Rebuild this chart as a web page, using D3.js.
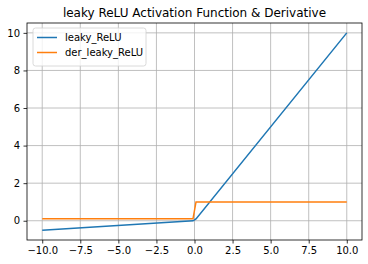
<!DOCTYPE html>
<html>
<head>
<meta charset="utf-8">
<script src="https://cdn.jsdelivr.net/npm/d3@7"></script>
<style>
body { margin: 0; background: #fff; }
text { font-family: "DejaVu Sans", sans-serif; fill: #000; }
</style>
</head>
<body>
<svg id="chart" width="368" height="264"></svg>
<script>
// Data
var xs = [-10, -0.1, 0.1, 10];
var leakyRelu = [-0.5, -0.005, 0.1, 10];
var derLeakyRelu = [0.1, 0.1, 1, 1];
var xTicks = [-10, -7.5, -5, -2.5, 0, 2.5, 5, 7.5, 10];
var yTicks = [0, 2, 4, 6, 8, 10];
var seriesNames = ['leaky_ReLU', 'der_leaky_ReLU'];
var colors = ['#1f77b4', '#ff7f0e'];

var svg = d3.select('#chart');
var pLeft = 27, pRight = 362, pTop = 23, pBottom = 240;

var x = d3.scaleLinear().domain([-11, 11]).range([pLeft, pRight]);
var y = d3.scaleLinear().domain([-1.025, 10.525]).range([pBottom, pTop]);

// grid
svg.append('g').selectAll('line').data(xTicks).enter().append('line')
    .attr('x1', function(d){ return x(d); }).attr('x2', function(d){ return x(d); })
    .attr('y1', pTop).attr('y2', pBottom)
    .attr('stroke', '#b0b0b0').attr('stroke-width', 0.8);
svg.append('g').selectAll('line').data(yTicks).enter().append('line')
    .attr('y1', function(d){ return y(d); }).attr('y2', function(d){ return y(d); })
    .attr('x1', pLeft).attr('x2', pRight)
    .attr('stroke', '#b0b0b0').attr('stroke-width', 0.8);

// axes
var xAxis = svg.append('g').attr('transform', 'translate(0,' + pBottom + ')')
    .call(d3.axisBottom(x).tickValues(xTicks).tickSize(3.5).tickPadding(3.5)
        .tickFormat(function(d){ return d3.format('.1f')(d).replace('-', '\u2212'); }));
var yAxis = svg.append('g').attr('transform', 'translate(' + pLeft + ',0)')
    .call(d3.axisLeft(y).tickValues(yTicks).tickSize(3.5).tickPadding(3.5));
[xAxis, yAxis].forEach(function(a)
{
    a.select('.domain').remove();
    a.selectAll('text').style('font-family', '"DejaVu Sans", sans-serif').style('font-size', '10px').attr('fill', '#000');
    a.selectAll('line').attr('stroke', '#000').attr('stroke-width', 0.8);
});

// lines
var pts = [leakyRelu, derLeakyRelu];
var line = d3.line().x(function(d){ return x(d[0]); }).y(function(d){ return y(d[1]); });
pts.forEach(function(vals, i)
{
    svg.append('path')
        .datum(xs.map(function(v, k){ return [v, vals[k]]; }))
        .attr('d', line)
        .attr('fill', 'none')
        .attr('stroke', colors[i])
        .attr('stroke-width', 1.5);
});

// frame
svg.append('rect').attr('x', pLeft).attr('y', pTop)
    .attr('width', pRight - pLeft).attr('height', pBottom - pTop)
    .attr('fill', 'none').attr('stroke', '#000').attr('stroke-width', 0.8);

// title
svg.append('text').attr('x', (pLeft + pRight) / 2).attr('y', 17)
    .attr('text-anchor', 'middle').style('font-size', '12px')
    .text('leaky ReLU Activation Function & Derivative');

// legend
var lg = svg.append('g').attr('transform', 'translate(33,28)');
lg.append('rect').attr('width', 113).attr('height', 38).attr('rx', 2.5)
    .attr('fill', '#fff').attr('fill-opacity', 0.8)
    .attr('stroke', '#d0d0d0').attr('stroke-width', 0.8);
seriesNames.forEach(function(n, i)
{
    var yy = 9.5 + i * 15;
    lg.append('line').attr('x1', 4).attr('x2', 24).attr('y1', yy).attr('y2', yy)
        .attr('stroke', colors[i]).attr('stroke-width', 1.5);
    lg.append('text').attr('x', 32).attr('y', yy + 3.5).style('font-size', '10px').text(n);
});
</script>
</body>
</html>
